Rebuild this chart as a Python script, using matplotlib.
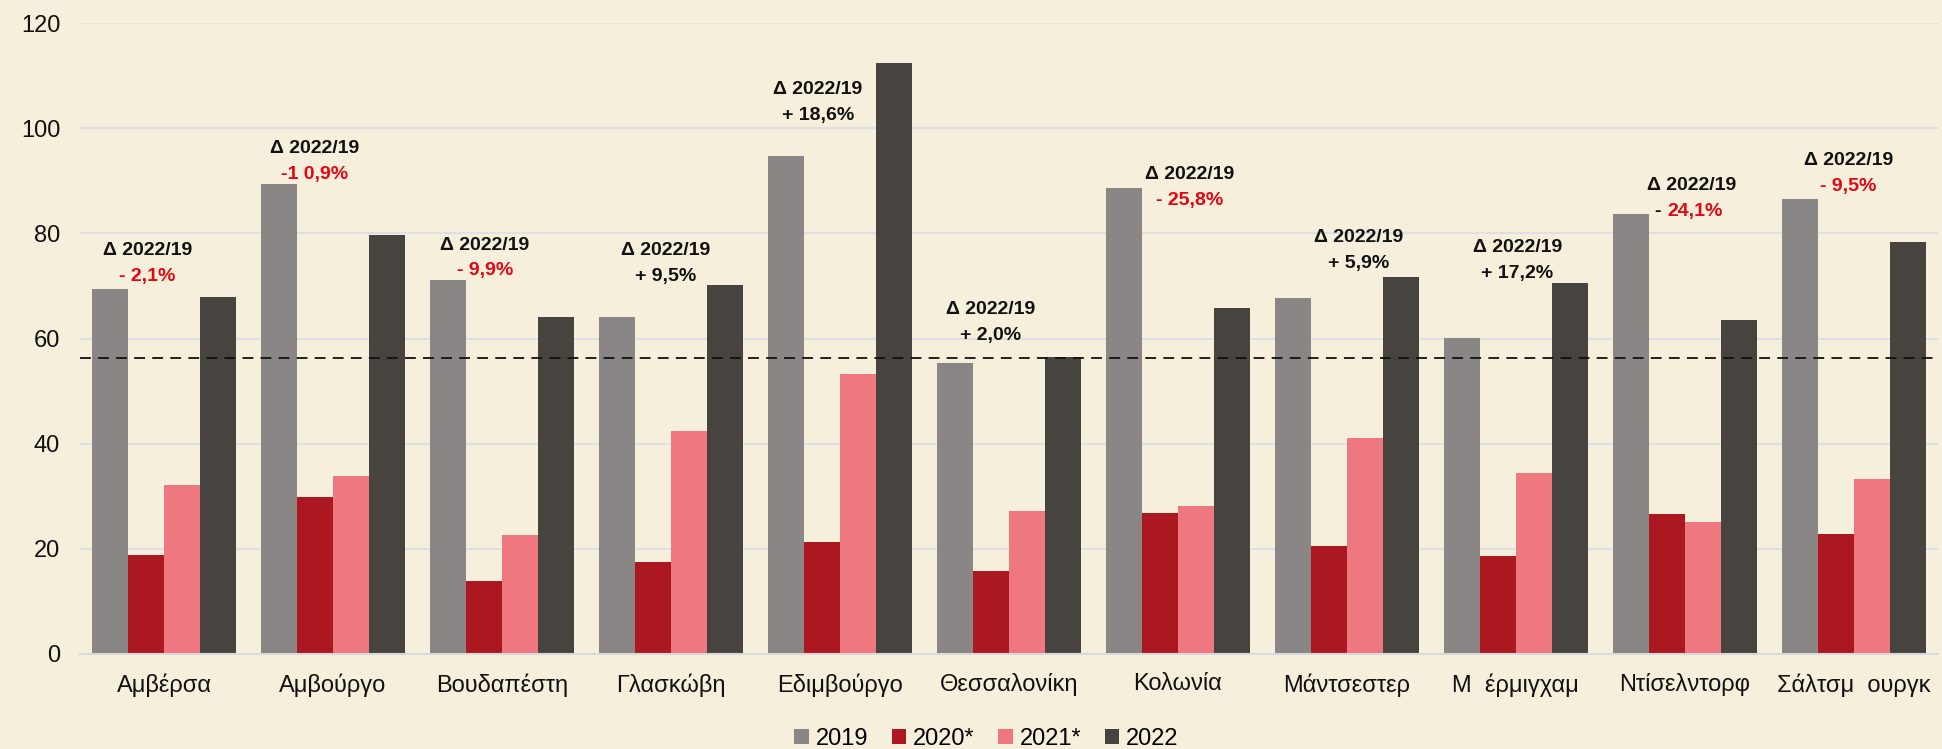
import numpy as np
import matplotlib.pyplot as plt

plt.rcParams['font.family'] = ['Liberation Sans Narrow', 'Liberation Sans', 'DejaVu Sans']

cities = ['Αμβέρσα', 'Αμβούργο', 'Βουδαπέστη', 'Γλασκώβη', 'Εδιμβούργο', 'Θεσσαλονίκη',
          'Κολωνία', 'Μάντσεστερ', 'Μ  έρμιγχαμ', 'Ντίσελντορφ', 'Σάλτσμ  ουργκ']
v2019 = [69.4, 89.4, 71.2, 64.1, 94.8, 55.4, 88.6, 67.7, 60.1, 83.7, 86.6]
v2020 = [18.9, 29.9, 13.9, 17.4, 21.2, 15.8, 26.9, 20.5, 18.6, 26.6, 22.9]
v2021 = [32.1, 33.9, 22.6, 42.4, 53.3, 27.1, 28.1, 41.0, 34.4, 25.0, 33.2]
v2022 = [67.9, 79.7, 64.1, 70.2, 112.4, 56.5, 65.8, 71.7, 70.5, 63.5, 78.4]
reference_line = 56.3

# Δ 2022/19 labels: (sign, number, sign colour, number colour)
deltas = [('- ', '2,1%', 'r', 'r'), ('-', '1 0,9%', 'r', 'r'), ('- ', '9,9%', 'r', 'r'),
          ('+ ', '9,5%', 'k', 'k'), ('+ ', '18,6%', 'k', 'k'), ('+ ', '2,0%', 'k', 'k'),
          ('- ', '25,8%', 'r', 'r'), ('+ ', '5,9%', 'k', 'k'), ('+ ', '17,2%', 'k', 'k'),
          ('-', '24,1%', 'k', 'r'), ('- ', '9,5%', 'r', 'r')]
delta_x = [-0.10, -0.11, -0.10, -0.03, -0.13, -0.11, 0.07, 0.07, 0.01, 0.04, -0.03]
delta_y = [76.8, 96.2, 77.8, 76.8, 107.3, 65.5, 91.2, 79.2, 77.3, 89.1, 93.8]

colors = ['#8a8685', '#ab1820', '#ef7880', '#47433f']
series = [('2019', v2019), ('2020*', v2020), ('2021*', v2021), ('2022', v2022)]
bg = '#f6efdb'
red = '#e30613'
ink = '#111111'

fig = plt.figure(figsize=(19.42, 7.49), dpi=100, facecolor=bg)
ax = fig.add_axes([0.041, 0.127, 0.957, 0.842], facecolor=bg)

x = np.arange(len(cities))
w = 0.213
for i, (name, vals) in enumerate(series):
    ax.bar(x + (i - 1.5) * w, vals, width=w, color=colors[i], label=name, zorder=2)

ax.axhline(reference_line, color=ink, linestyle=(0, (6, 4)), linewidth=1.3, zorder=3)

lab = dict(fontsize=14, fontweight='bold', va='center', zorder=4)
for i, (sign, num, c1, c2) in enumerate(deltas):
    cx = x[i] + delta_x[i]
    y2 = delta_y[i] - 4.9
    ax.text(cx, delta_y[i], 'Δ 2022/19', ha='center', color=ink, **lab)
    if c1 == c2:
        ax.text(cx, y2, sign + num, ha='center', color=red if c2 == 'r' else ink, **lab)
    else:
        # sign and number in different colours
        ax.annotate(sign, xy=(cx, y2), xytext=(-22, 0), textcoords='offset points',
                    ha='right', color=ink, **lab)
        ax.annotate(num, xy=(cx, y2), xytext=(-17, 0), textcoords='offset points',
                    ha='left', color=red, **lab)

ax.set_xlim(-0.5, len(cities) - 0.5)
ax.set_ylim(0, 120)
ax.set_yticks(range(0, 121, 20))
ax.yaxis.grid(True, color='#dfe0e6', linewidth=1.5, zorder=0)
ax.set_axisbelow(True)
for s in ['top', 'right', 'left']:
    ax.spines[s].set_visible(False)
ax.spines['bottom'].set_color('#d9d9dc')
ax.spines['bottom'].set_linewidth(1.5)
ax.tick_params(axis='y', length=0, pad=14, labelsize=17, labelcolor=ink)
ax.tick_params(axis='x', length=0, pad=14, labelsize=17, labelcolor=ink)
ax.set_xticks(x)
ax.set_xticklabels(cities)

fig.legend(loc='lower center', bbox_to_anchor=(0.508, -0.03), ncol=4, frameon=False,
           fontsize=17, handlelength=0.6, handleheight=0.6, handletextpad=0.3,
           columnspacing=1.0)

fig.savefig('out.png', dpi=100, facecolor=bg)
